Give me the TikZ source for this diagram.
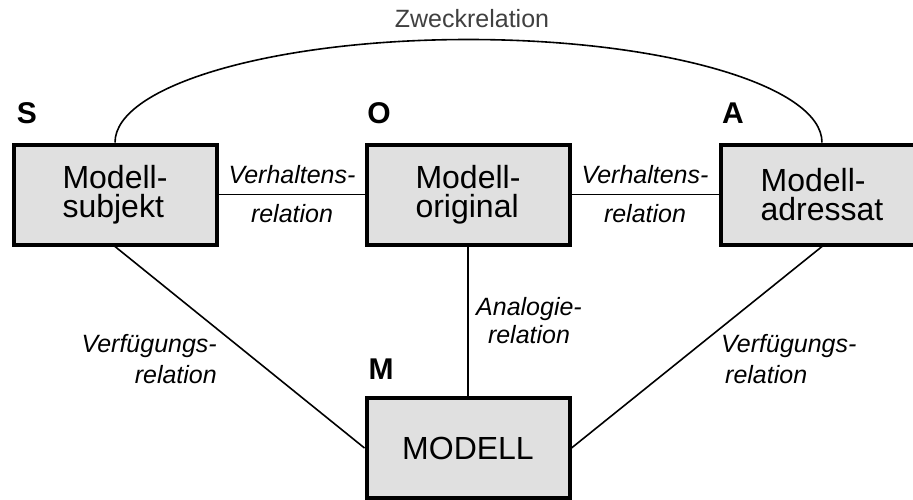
\documentclass[tikz,border=0pt]{standalone}
\usepackage{fontspec}
\setmainfont{Liberation Sans}
\definecolor{boxgray}{HTML}{E0E0E0}
\definecolor{textgray}{HTML}{404040}
\begin{document}
\begin{tikzpicture}[x=1pt,y=-1pt,
  mbox/.style={draw=black, line width=4pt, fill=boxgray, minimum width=203pt, minimum height=100pt, align=left, inner sep=0pt, font=\fontsize{32}{29}\selectfont},
  letter/.style={font=\fontsize{30}{30}\selectfont\bfseries, inner sep=0pt, anchor=base},
  rel/.style={font=\fontsize{25}{39}\selectfont\itshape, inner sep=0pt},
  conn/.style={line width=1.6pt}]
\useasboundingbox (0,0) rectangle (913,499);
% boxes
\node[mbox] (S) at (115,194.5) {Modell-\\subjekt};
\node[mbox] (O) at (468,194.5) {Modell-\\original};
\node[mbox] (A) at (822,194.5) {Modell-\\adressat};
\node[mbox] (M) at (468,448) {MODELL};
% connectors
\draw[conn] (S.east) -- (O.west);
\draw[conn] (O.east) -- (A.west);
\draw[conn] (O.south) -- (M.north);
\draw[conn] (S.south) -- (M.west);
\draw[conn] (A.south) -- (M.east);
\draw[conn] (S.north) arc[start angle=180, end angle=0, x radius=353.5pt, y radius=103pt];
% letters
\node[letter] (lS) at (27,123) {S};
\node[letter] (lO) at (379,123) {O};
\node[letter] (lA) at (733,123) {A};
\node[letter] (lM) at (381,379) {M};
% relation labels
\node[font=\fontsize{25}{25}\selectfont, text=textgray, inner sep=0pt, anchor=base] (zw) at (472,27) {Zweckrelation};
\node[rel, align=center] (vh1) at (292,194.5) {Verhaltens-\\relation};
\node[rel, align=center] (vh2) at (645,194.5) {Verhaltens-\\relation};
\node[rel, align=center, font=\fontsize{25}{28}\selectfont\itshape] (an) at (529,320.4) {Analogie-\\relation};
\node[rel, align=right, anchor=east, font=\fontsize{25}{31}\selectfont\itshape] (vf1) at (217,358.9) {Verfügungs-\\relation};
\node[rel, align=left, anchor=west, font=\fontsize{25}{31}\selectfont\itshape] (vf2) at (721,358.9) {Verfügungs-\\\hspace*{4pt}relation};
\end{tikzpicture}
\end{document}
